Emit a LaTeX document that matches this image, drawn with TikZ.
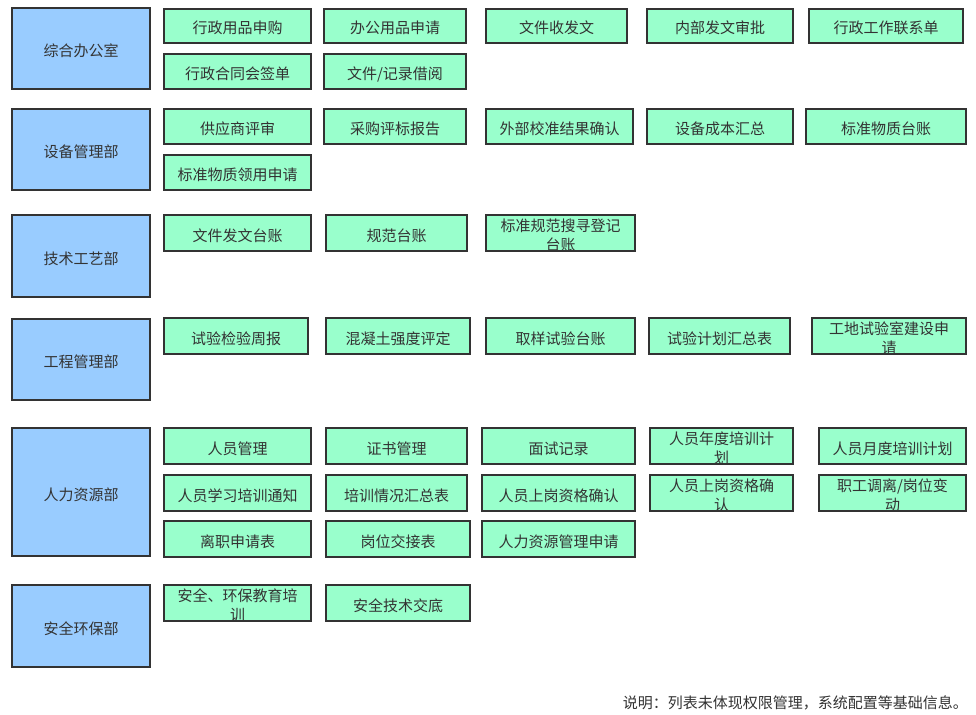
\documentclass[tikz,border=0pt]{standalone}
\usepackage{fontspec}
\newfontfamily\cjk{Noto Sans CJK SC}
\definecolor{deptfill}{HTML}{99CCFF}
\definecolor{itemfill}{HTML}{99FFCC}
\definecolor{edgecol}{HTML}{333333}
\definecolor{inkcol}{HTML}{333333}
\tikzset{
  lbl/.style={font=\cjk\fontsize{15}{19}\selectfont, text=inkcol},
  boxed/.style={lbl, draw=edgecol, line width=2.5pt, inner sep=0pt, outer sep=0pt, text height=16pt, text depth=0pt},
  dept/.style={boxed, fill=deptfill},
  item/.style={boxed, fill=itemfill},
  itemtext/.style={lbl, inner sep=0pt, align=center},
  note/.style={lbl, inner sep=0pt}
}
\newcommand\mkbox[7]{%
  \pgfmathsetmacro\zbw{#5-#3}\pgfmathsetmacro\zbh{#6-#4}%
  \pgfmathsetmacro\zcx{(#3+#5)/2}\pgfmathsetmacro\zcy{(#4+#6)/2}%
  \node[#1, minimum width=\zbw pt, minimum height=\zbh pt] (#2) at (\zcx,\zcy) {#7};}
\newcommand\mkwrap[8]{%
  \pgfmathsetmacro\zbw{#5-#3}\pgfmathsetmacro\zbh{#6-#4}%
  \pgfmathsetmacro\zcx{(#3+#5)/2}\pgfmathsetmacro\zcy{(#4+#6)/2}%
  \node[#1, minimum width=\zbw pt, minimum height=\zbh pt] (#2) at (\zcx,\zcy) {};
  \begin{scope}
    \clip (#3,#4) rectangle (#5,#6);
    \node[itemtext] (#2t) at (\zcx,#4+20.5) {#7\\#8};
  \end{scope}
  \draw[draw=edgecol, line width=2.5pt] (#3,#4) rectangle (#5,#6);}
\begin{document}
\begin{tikzpicture}[x=1pt,y=-1pt]
\fill[white] (0,0) rectangle (976,714);
\useasboundingbox (0,0) rectangle (976,714);
% departments
\mkbox{dept}{d1}{12}{8}{150}{89}{综合办公室}
\mkbox{dept}{d2}{12}{109}{150}{190}{设备管理部}
\mkbox{dept}{d3}{12}{215}{150}{297}{技术工艺部}
\mkbox{dept}{d4}{12}{319}{150}{400}{工程管理部}
\mkbox{dept}{d5}{12}{428}{150}{556}{人力资源部}
\mkbox{dept}{d6}{12}{585}{150}{667}{安全环保部}
% 综合办公室
\mkbox{item}{a11}{164}{9}{311}{43}{行政用品申购}
\mkbox{item}{a12}{324}{9}{466}{43}{办公用品申请}
\mkbox{item}{a13}{486}{9}{627}{43}{文件收发文}
\mkbox{item}{a14}{647}{9}{793}{43}{内部发文审批}
\mkbox{item}{a15}{809}{9}{963}{43}{行政工作联系单}
\mkbox{item}{a21}{164}{54}{311}{89}{行政合同会签单}
\mkbox{item}{a22}{324}{54}{466}{89}{文件/记录借阅}
% 设备管理部
\mkbox{item}{b11}{164}{109}{311}{144}{供应商评审}
\mkbox{item}{b12}{324}{109}{466}{144}{采购评标报告}
\mkbox{item}{b13}{486}{109}{633}{144}{外部校准结果确认}
\mkbox{item}{b14}{647}{109}{793}{144}{设备成本汇总}
\mkbox{item}{b15}{806}{109}{966}{144}{标准物质台账}
\mkbox{item}{b21}{164}{155}{311}{190}{标准物质领用申请}
% 技术工艺部
\mkbox{item}{c11}{164}{215}{311}{251}{文件发文台账}
\mkbox{item}{c12}{326}{215}{467}{251}{规范台账}
\mkwrap{item}{c13}{486}{215}{635}{251}{标准规范搜寻登记}{台账}
% 工程管理部
\mkbox{item}{e11}{164}{318}{308}{354}{试验检验周报}
\mkbox{item}{e12}{326}{318}{470}{354}{混凝土强度评定}
\mkbox{item}{e13}{486}{318}{635}{354}{取样试验台账}
\mkbox{item}{e14}{649}{318}{790}{354}{试验计划汇总表}
\mkwrap{item}{e15}{812}{318}{966}{354}{工地试验室建设申}{请}
% 人力资源部
\mkbox{item}{h11}{164}{428}{311}{464}{人员管理}
\mkbox{item}{h12}{326}{428}{467}{464}{证书管理}
\mkbox{item}{h13}{482}{428}{635}{464}{面试记录}
\mkwrap{item}{h14}{650}{428}{793}{464}{人员年度培训计}{划}
\mkbox{item}{h15}{819}{428}{966}{464}{人员月度培训计划}
\mkbox{item}{h21}{164}{475}{311}{511}{人员学习培训通知}
\mkbox{item}{h22}{326}{475}{467}{511}{培训情况汇总表}
\mkbox{item}{h23}{482}{475}{635}{511}{人员上岗资格确认}
\mkwrap{item}{h24}{650}{475}{793}{511}{人员上岗资格确}{认}
\mkwrap{item}{h25}{819}{475}{966}{511}{职工调离/岗位变}{动}
\mkbox{item}{h31}{164}{521}{311}{557}{离职申请表}
\mkbox{item}{h32}{326}{521}{470}{557}{岗位交接表}
\mkbox{item}{h33}{482}{521}{635}{557}{人力资源管理申请}
% 安全环保部
\mkwrap{item}{s11}{164}{585}{311}{621}{安全、环保教育培}{训}
\mkbox{item}{s12}{326}{585}{470}{621}{安全技术交底}
% note
\node[note, anchor=east] (note) at (968,703) {说明：列表未体现权限管理，系统配置等基础信息。};
\end{tikzpicture}
\end{document}
